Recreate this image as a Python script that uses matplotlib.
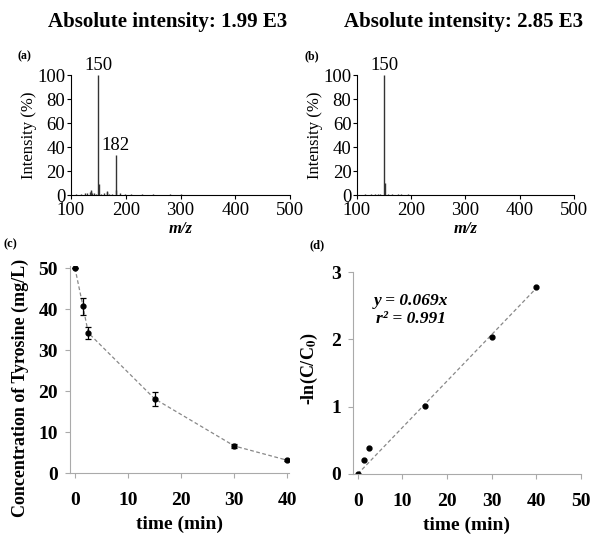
import numpy as np
import matplotlib.pyplot as plt

plt.rcParams['font.family'] = ['Liberation Serif', 'DejaVu Serif']
plt.rcParams['mathtext.fontset'] = 'stix'

# mass spectra (m/z, relative intensity %)
mz_a = [110, 118, 125, 130, 134, 136, 137, 139, 142, 145, 150, 151, 155, 160, 165, 166, 170, 175, 182, 183, 190, 198, 210, 230, 250, 280, 300, 340, 400, 450]
int_a = [1.0, 1.2, 1.5, 1.8, 2.5, 4.0, 3.5, 2.0, 1.5, 1.0, 100, 9.0, 1.2, 1.5, 2.5, 3.0, 1.0, 0.8, 33, 4.0, 1.5, 1.2, 0.8, 0.6, 0.5, 1.2, 0.5, 0.4, 0.4, 0.3]
mz_b = [115, 125, 133, 138, 143, 150, 151, 158, 165, 175, 182, 195, 220, 260, 300, 360]
int_b = [0.5, 0.6, 0.8, 1.0, 0.7, 100, 10, 0.8, 1.0, 0.7, 0.6, 0.5, 0.4, 0.4, 0.3, 0.3]

# degradation kinetics
t = [0, 1.5, 2.5, 15, 30, 40]
conc = [50, 40.7, 34.2, 18.1, 6.6, 3.1]
conc_err = [0, 2.1, 1.5, 1.7, 0.5, 0.2]
lnc = [0, 0.21, 0.38, 1.01, 2.04, 2.77]
k = 0.069

fig = plt.figure(figsize=(5.91, 5.38), dpi=100)

def spectrum(rect, mz, inten, title, titlex, tag, peaks):
    ax = fig.add_axes(rect)
    ax.vlines(mz, 0, inten, color='#333333', lw=1.0)
    ax.set_xlim(100, 500)
    ax.set_ylim(0, 100)
    ax.set_xticks([100, 200, 300, 400, 500])
    ax.set_yticks([0, 20, 40, 60, 80, 100])
    for s in ['top', 'right']:
        ax.spines[s].set_visible(False)
    ax.tick_params(labelsize=13.5, length=3, width=0.8, pad=1)
    ax.tick_params(axis='x', pad=2)
    # nudge the y "0" label up slightly so it clears the x "100" label
    ax.get_yticklabels()[0].set_verticalalignment('center_baseline')
    ax.set_ylabel('Intensity (%)', fontsize=12, labelpad=0)
    ax.set_xlabel('m/z', fontsize=12, style='italic', fontweight='bold')
    ax.xaxis.set_label_coords(0.5, -0.215)
    for p, v in peaks:
        ax.text(p, v + 1, str(p), ha='center', va='bottom', fontsize=13.5)
    ax.text(titlex, 1.44, title, transform=ax.transAxes, ha='center', va='center',
            fontsize=15, fontweight='bold')
    ax.text(-0.21, 1.16, tag, transform=ax.transAxes, ha='center', va='center',
            fontsize=8.5, fontweight='bold')
    return ax

spectrum([0.120, 0.6375, 0.371, 0.223], mz_a, int_a, 'Absolute intensity: 1.99 E3', 0.44, '(a)',
         [(150, 100), (182, 33)])
spectrum([0.604, 0.6375, 0.367, 0.223], mz_b, int_b, 'Absolute intensity: 2.85 E3', 0.49, '(b)',
         [(150, 100)])

gray = '#aaaaaa'

def style_kin(ax):
    for s in ['top', 'right']:
        ax.spines[s].set_visible(False)
    for s in ['left', 'bottom']:
        ax.spines[s].set_color(gray)
        ax.spines[s].set_linewidth(0.8)
    ax.tick_params(labelsize=14, length=3.5, width=0.8, color=gray)
    ax.tick_params(axis='x', pad=10)
    ax.tick_params(axis='y', pad=5)
    for lb in ax.get_xticklabels() + ax.get_yticklabels():
        lb.set_fontweight('bold')

# (c)
axc = fig.add_axes([0.1184, 0.1208, 0.3706, 0.3848])
axc.plot(t, conc, ls='--', color='#888888', lw=0.9, dashes=(3, 2))
axc.errorbar(t, conc, yerr=conc_err, fmt='o', color='black', ms=3.5,
             elinewidth=0.9, capsize=2.5, capthick=0.9)
axc.set_xlim(-0.94, 40.3)
axc.set_ylim(0, 50.5)
axc.set_xticks([0, 10, 20, 30, 40])
axc.set_yticks([0, 10, 20, 30, 40, 50])
style_kin(axc)
axc.set_xlabel('time (min)', fontsize=14, fontweight='bold')
axc.xaxis.set_label_coords(0.5, -0.205)
axc.set_ylabel('Concentration of Tyrosine (mg/L)', fontsize=13, fontweight='bold')
axc.yaxis.set_label_coords(-0.185, 0.41)
axc.text(-0.27, 1.105, '(c)', transform=axc.transAxes, ha='center', va='center',
         fontsize=9, fontweight='bold')

# (d)
axd = fig.add_axes([0.597, 0.119, 0.386, 0.3754])
xf = np.array([0, 40])
axd.plot(xf, k * xf, ls='--', color='#888888', lw=0.9, dashes=(3, 2))
axd.plot(t, lnc, 'o', color='black', ms=3.5)
axd.set_xlim(-1.1, 50)
axd.set_ylim(0, 3)
axd.set_xticks([0, 10, 20, 30, 40, 50])
axd.set_yticks([0, 1, 2, 3])
style_kin(axd)
axd.set_xlabel('time (min)', fontsize=14, fontweight='bold')
axd.xaxis.set_label_coords(0.5, -0.21)
axd.set_ylabel(r'-ln(C/C$_\mathbf{0}$)', fontsize=13, fontweight='bold')
axd.yaxis.set_label_coords(-0.145, 0.52)
axd.text(0.255, 0.855, 'y = 0.069x', transform=axd.transAxes, ha='center', va='center',
         fontsize=12.5, fontweight='bold', style='italic')
axd.text(0.255, 0.765, 'r² = 0.991', transform=axd.transAxes, ha='center', va='center',
         fontsize=12.5, fontweight='bold', style='italic')
axd.text(-0.155, 1.13, '(d)', transform=axd.transAxes, ha='center', va='center',
         fontsize=9, fontweight='bold')

fig.savefig('out.png', dpi=100)
